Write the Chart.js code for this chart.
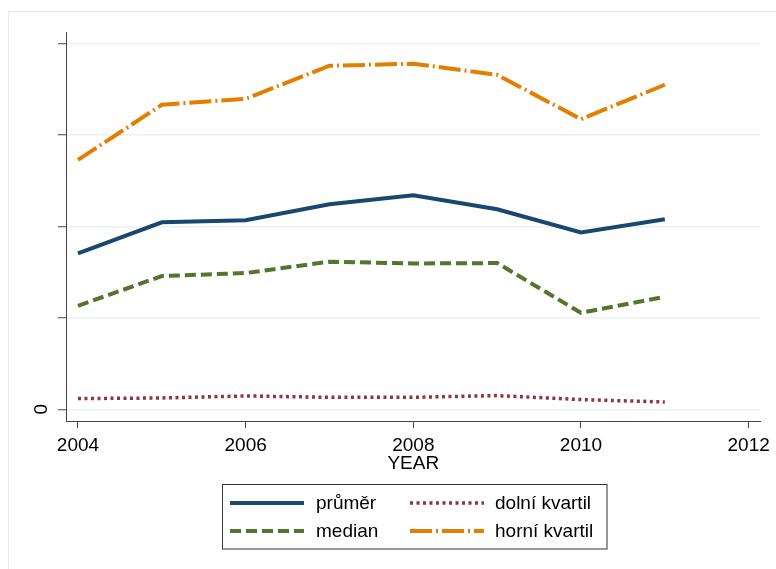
<!DOCTYPE html>
<html>
<head>
<meta charset="utf-8">
<script src="https://cdn.jsdelivr.net/npm/chart.js@4.4.1/dist/chart.umd.min.js"></script>
<style>
  html, body { margin: 0; padding: 0; background: #fff; }
  canvas { display: block; }
</style>
</head>
<body>
<canvas id="chart" width="776" height="569"></canvas>
<script>
// ============= DATA =============
const years = [2004, 2005, 2006, 2007, 2008, 2009, 2010, 2011];
const prumer = [1.705, 2.045, 2.067, 2.242, 2.34, 2.187, 1.935, 2.078];
const median = [1.132, 1.457, 1.49, 1.614, 1.595, 1.599, 1.055, 1.23];
const dolniKvartil = [0.117, 0.124, 0.146, 0.131, 0.131, 0.15, 0.106, 0.08];
const horniKvartil = [2.727, 3.33, 3.395, 3.757, 3.779, 3.658, 3.173, 3.549];
const yTickLabels = ['0', '', '', '', ''];
const xTitle = 'YEAR';
// legend order: left column then right column, row by row
const legendOrder = ['průměr', 'dolní kvartil', 'median', 'horní kvartil'];

const FONT = '"Liberation Sans", Arial, sans-serif';

function pts(vals){ return years.map((y, i) => ({ x: y, y: vals[i] })); }

function series(label, vals, color, dash, width){
  return {
    label, data: pts(vals),
    borderColor: color, backgroundColor: color,
    borderWidth: width, borderDash: dash,
    pointRadius: 0, tension: 0, fill: false,
    borderCapStyle: 'butt'
  };
}

// ============= EXTRA DRAWING (title, rotated "0", legend, frame) =============
const extras = {
  id: 'extras',
  beforeDraw(chart){
    const c = chart.ctx;
    c.save();
    c.strokeStyle = '#e3eaec';
    c.lineWidth = 1;
    c.strokeRect(8.5, 11.5, 800, 600);
    c.restore();
  },
  afterDraw(chart){
    const c = chart.ctx;
    const ys = chart.scales.y, xs = chart.scales.x;
    c.save();
    c.fillStyle = '#000';
    c.font = '19px ' + FONT;
    // rotated y tick labels
    ys.ticks.forEach((t, i) => {
      const lab = yTickLabels[i];
      if (!lab) return;
      const py = ys.getPixelForValue(t.value);
      c.save();
      c.translate(42, py);
      c.rotate(-Math.PI / 2);
      c.textAlign = 'center';
      c.textBaseline = 'middle';
      c.fillText(lab, 0, 0);
      c.restore();
    });
    // x title
    c.textAlign = 'center';
    c.textBaseline = 'middle';
    c.fillText(xTitle, (xs.left + xs.right) / 2, 464);

    // legend box
    c.strokeStyle = '#333';
    c.lineWidth = 1;
    c.strokeRect(222.5, 484.5, 384.5, 64.5);
    const cols = [{ x0: 230, x1: 304, tx: 316 }, { x0: 410, x1: 484, tx: 495 }];
    const rows = [503, 531];
    legendOrder.forEach((name, k) => {
      const ds = chart.data.datasets.find(d => d.label === name);
      const col = cols[k % 2], row = rows[Math.floor(k / 2)];
      c.save();
      c.strokeStyle = ds.borderColor;
      c.lineWidth = ds.borderWidth;
      c.setLineDash(ds.borderDash || []);
      c.lineCap = 'butt';
      c.beginPath();
      c.moveTo(col.x0, row);
      c.lineTo(col.x1, row);
      c.stroke();
      c.restore();
      c.textAlign = 'left';
      c.textBaseline = 'middle';
      c.fillText(name, col.tx, row + 1);
    });
    c.restore();
  }
};

new Chart(document.getElementById('chart'), {
  type: 'line',
  data: {
    datasets: [
      series('průměr', prumer, '#1a476f', [], 4),
      series('median', median, '#55752f', [11, 5], 4),
      series('dolní kvartil', dolniKvartil, '#90353b', [3, 3.5], 3.5),
      series('horní kvartil', horniKvartil, '#e37e00', [22, 4, 2, 4], 4)
    ]
  },
  options: {
    responsive: false,
    devicePixelRatio: 1,
    animation: false,
    layout: { padding: { top: 32, right: 13, left: 0, bottom: 0 } },
    plugins: { legend: { display: false }, tooltip: { enabled: false } },
    scales: {
      x: {
        type: 'linear',
        min: 2003.857, max: 2012.143,
        afterFit(s){ s.height = 148; },
        border: { display: true, color: '#444', width: 1 },
        grid: { drawOnChartArea: false, drawTicks: true, tickLength: 7, tickColor: '#444', tickWidth: 1 },
        ticks: {
          stepSize: 2, includeBounds: false, padding: 6,
          color: '#000', font: { family: FONT, size: 19 },
          maxRotation: 0, autoSkip: false,
          callback: v => String(v)
        }
      },
      y: {
        type: 'linear',
        min: -0.128, max: 4.126,
        afterFit(s){ s.width = 66; },
        border: { display: true, color: '#444', width: 1 },
        grid: { color: '#eaf2f3', lineWidth: 1.5, drawTicks: true, tickLength: 8, tickColor: '#444', tickWidth: 1 },
        ticks: { stepSize: 1, includeBounds: false, display: false }
      }
    }
  },
  plugins: [extras]
});
</script>
</body>
</html>
